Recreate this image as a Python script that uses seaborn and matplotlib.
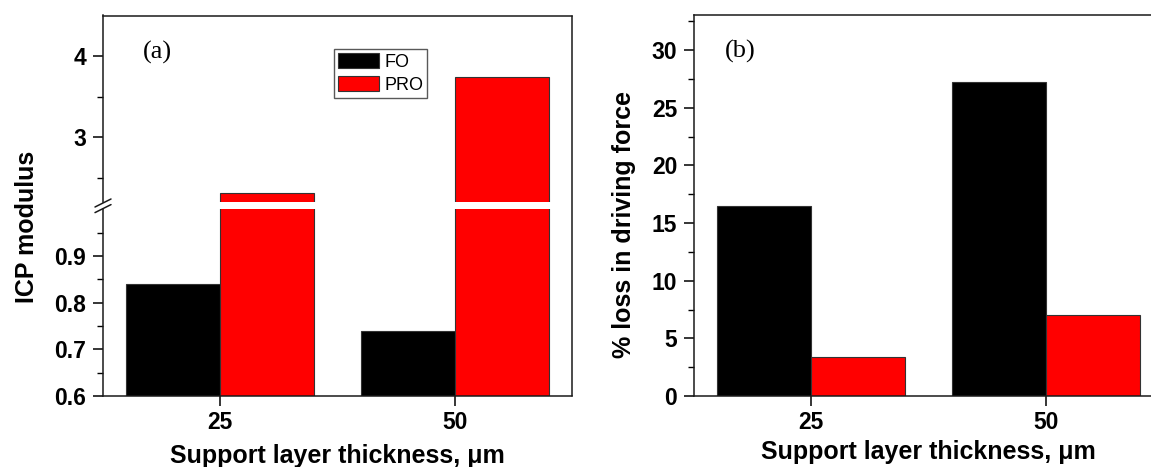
import matplotlib
matplotlib.use("Agg")
import matplotlib.pyplot as plt
from matplotlib.lines import Line2D
from matplotlib.ticker import FormatStrFormatter
import numpy as np
import pandas as pd
import seaborn as sns

# ---- data ----
thickness = ["25", "50"]
modes = ["FO", "PRO"]
icp_fo = [0.84, 0.74]
icp_pro = [2.32, 3.74]
loss_fo = [16.46, 27.25]
loss_pro = [3.37, 7.0]

df_a = pd.DataFrame({
    "thickness": thickness * 2,
    "mode": ["FO"] * 2 + ["PRO"] * 2,
    "value": icp_fo + icp_pro,
})
df_b = pd.DataFrame({
    "thickness": thickness * 2,
    "mode": ["FO"] * 2 + ["PRO"] * 2,
    "value": loss_fo + loss_pro,
})

sns.set_style("ticks")
plt.rcParams["font.family"] = ["Liberation Sans", "DejaVu Sans"]
plt.rcParams["axes.linewidth"] = 1.1
plt.rcParams["xtick.major.width"] = 1.1
plt.rcParams["ytick.major.width"] = 1.1
plt.rcParams["ytick.minor.width"] = 1.0
for key in ("text.color", "axes.labelcolor", "xtick.color", "ytick.color",
            "axes.edgecolor"):
    plt.rcParams[key] = "black"

palette = {"FO": "black", "PRO": "#ff0000"}

W, H = 1151, 467
fig = plt.figure(figsize=(W / 100, H / 100), dpi=100)


def fx(px):
    return px / W


def fy(py):
    return 1 - py / H


def rect(left, top, right, bottom):
    return [fx(left), fy(bottom), (right - left) / W, (bottom - top) / H]


A_L, A_R = 103, 572
B_L = 694
B_R = B_L + (A_R - A_L)
BOT = 396
TOP = 15.5
LOW_TOP = 209.3
UP_BOT = 202.3

ax_low = fig.add_axes(rect(A_L, LOW_TOP, A_R, BOT))
ax_up = fig.add_axes(rect(A_L, TOP, A_R, UP_BOT))
ax_b = fig.add_axes(rect(B_L, TOP, B_R, BOT))

bar_kw = dict(x="thickness", y="value", hue="mode", hue_order=modes,
              order=thickness, palette=palette, saturation=1, width=0.8,
              edgecolor="#333333", linewidth=0.8, gap=0)

sns.barplot(data=df_a, ax=ax_low, legend=False, **bar_kw)
sns.barplot(data=df_a, ax=ax_up, legend=True, **bar_kw)
sns.barplot(data=df_b, ax=ax_b, legend=False, **bar_kw)

TICK_SIZE = 16.5
label_font = dict(fontsize=18, fontweight="bold")

# lower part of (a)
ax_low.set_ylim(0.6, 1.0)
ax_low.set_yticks([0.6, 0.7, 0.8, 0.9])
ax_low.set_yticks([0.65, 0.75, 0.85, 0.95], minor=True)
ax_low.yaxis.set_major_formatter(FormatStrFormatter("%.1f"))
ax_low.spines["top"].set_visible(False)
ax_low.spines["right"].set_visible(False)

# upper part of (a)
ax_up.set_ylim(2.2, 4.5)
ax_up.set_yticks([3, 4])
ax_up.set_yticks([2.5, 3.5], minor=True)
ax_up.spines["bottom"].set_visible(False)
ax_up.spines["right"].set_visible(False)
ax_up.set_xticks([])
ax_up.set_xlabel("")

# panel (b)
ax_b.set_ylim(0, 33)
ax_b.set_yticks(np.arange(0, 31, 5))
ax_b.set_yticks(np.arange(2.5, 33, 5), minor=True)
ax_b.spines["right"].set_visible(False)

for ax in (ax_low, ax_up, ax_b):
    ax.set_xlim(-0.5, 1.5)
    ax.tick_params(axis="y", which="major", direction="out", length=7,
                   pad=5, labelsize=TICK_SIZE, left=True, right=False)
    ax.tick_params(axis="y", which="minor", direction="out", length=4,
                   left=True, right=False)
    ax.tick_params(axis="x", which="major", direction="out", length=7,
                   pad=4, labelsize=TICK_SIZE, top=False)
    for lab in ax.get_yticklabels() + ax.get_xticklabels():
        lab.set_fontweight("bold")
    ax.set_ylabel("")
    for sp in ax.spines.values():
        sp.set_color("#1a1a1a")

ax_low.set_xlabel("Support layer thickness, \u03bcm", **label_font)
ax_low.xaxis.set_label_coords(0.5, (BOT - 456) / (BOT - LOW_TOP))
ax_low.xaxis.label.set_verticalalignment("center")

ax_b.set_xlabel("Support layer thickness, \u03bcm", **label_font)
ax_b.xaxis.set_label_coords(0.5, (BOT - 451.7) / (BOT - TOP))
ax_b.xaxis.label.set_verticalalignment("center")

fig.text(fx(27), fy(227), "ICP modulus", rotation=90, ha="center",
         va="center", **label_font)
fig.text(fx(624), fy(224), "% loss in driving force", rotation=90,
         ha="center", va="center", **label_font)

# panel letters
serif = ["Liberation Serif", "DejaVu Serif"]
fig.text(fx(157.7), fy(52.3), "(a)", ha="center", va="center",
         fontsize=19, family=serif)
fig.text(fx(740.5), fy(51.7), "(b)", ha="center", va="center",
         fontsize=19, family=serif)

# continuous right spine of (a)
fig.add_artist(Line2D([fx(A_R), fx(A_R)], [fy(BOT), fy(TOP)],
                      color="#1a1a1a", lw=1.1, transform=fig.transFigure))
# break marks on the left axis of (a)
for yc in (203.0, 208.6):
    fig.add_artist(Line2D([fx(A_L - 8), fx(A_L + 8)],
                          [fy(yc + 4), fy(yc - 4)],
                          color="#1a1a1a", lw=1.1,
                          transform=fig.transFigure))

# legend
sns.move_legend(ax_up, "upper left",
                bbox_to_anchor=(fx(334), fy(49.3)),
                bbox_transform=fig.transFigure,
                title=None, frameon=True, fancybox=False,
                edgecolor="0.35", framealpha=1, fontsize=13,
                handlelength=2.3, handleheight=0.92, handletextpad=0.28,
                borderpad=0.2, labelspacing=0.3, borderaxespad=0)
ax_up.get_legend().get_frame().set_linewidth(1.0)

fig.savefig("out.png", dpi=100)
